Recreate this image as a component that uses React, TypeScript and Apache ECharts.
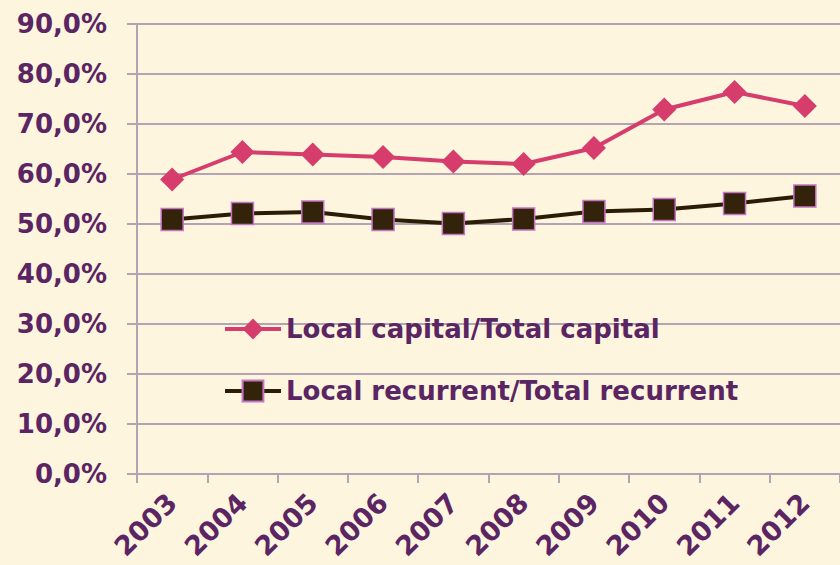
import React, { useEffect, useRef } from "react";
import * as echarts from "echarts";

const years = ["2003", "2004", "2005", "2006", "2007", "2008", "2009", "2010", "2011", "2012"];
const capitalShare = [58.9, 64.4, 63.9, 63.4, 62.5, 62.0, 65.2, 72.9, 76.4, 73.6];
const recurrentShare = [50.9, 52.1, 52.4, 50.9, 50.1, 51.0, 52.5, 52.9, 54.1, 55.6];
const seriesNames = ["Local capital/Total capital", "Local recurrent/Total recurrent"];

const purple = "#5b2563";
const gridColor = "#b3a3b3";
const font = "DejaVu Sans";

export default function App() {
  const ref = useRef<HTMLDivElement>(null);
  useEffect(() => {
    if (!ref.current) return;
    const chart = echarts.init(ref.current, null, { renderer: "svg" });
    chart.setOption({
      animation: false,
      backgroundColor: "#fdf5de",
      textStyle: { fontFamily: font },
      grid: { left: 137, top: 24, bottom: 91, right: -2, containLabel: false },
      legend: {
        orient: "vertical",
        left: 218,
        top: 311,
        itemGap: 36,
        itemWidth: 56,
        itemHeight: 26,
        lineStyle: { width: 4 },
        textStyle: { fontSize: 26, fontWeight: "bold", color: purple, fontFamily: font },
        data: seriesNames,
      },
      xAxis: {
        type: "category",
        data: years,
        boundaryGap: true,
        axisLine: { lineStyle: { color: gridColor, width: 2 } },
        axisTick: { show: true, length: 9, lineStyle: { color: gridColor, width: 2 } },
        axisLabel: {
          rotate: 45,
          fontSize: 27,
          fontWeight: "bold",
          color: purple,
          fontFamily: font,
          margin: 24,
          interval: 0,
        },
      },
      yAxis: {
        type: "value",
        min: 0,
        max: 90,
        interval: 10,
        axisLine: { show: true, lineStyle: { color: gridColor, width: 2 } },
        axisTick: { show: true, length: 10, lineStyle: { color: gridColor, width: 2 } },
        splitLine: { lineStyle: { color: gridColor, width: 2 } },
        axisLabel: {
          fontSize: 26,
          fontWeight: "bold",
          color: purple,
          fontFamily: font,
          margin: 30,
          formatter: (v: number) => v.toFixed(1).replace(".", ",") + "%",
        },
      },
      series: [
        {
          name: seriesNames[0],
          type: "line",
          data: capitalShare,
          symbol: "diamond",
          symbolSize: 24,
          lineStyle: { color: "#d63d6d", width: 4 },
          itemStyle: { color: "#d63d6d" },
        },
        {
          name: seriesNames[1],
          type: "line",
          data: recurrentShare,
          symbol: "rect",
          symbolSize: 22,
          lineStyle: { color: "#2b1c06", width: 4 },
          itemStyle: { color: "#33230a", borderColor: "#c674c6", borderWidth: 1.5 },
        },
      ],
    });
    return () => chart.dispose();
  }, []);
  return <div ref={ref} style={{ width: 840, height: 565, position: "absolute", left: 0, top: 0 }} />;
}
